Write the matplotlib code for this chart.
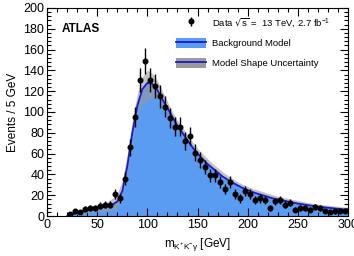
import numpy as np
import matplotlib
matplotlib.use("Agg")
import matplotlib.pyplot as plt
from matplotlib.patches import Patch
from matplotlib.lines import Line2D
from matplotlib.ticker import MultipleLocator

plt.rcParams['font.family'] = ['Liberation Sans', 'DejaVu Sans']

# data, 5 GeV bins
bin_centres = np.arange(22.5, 300, 5.0)
counts = [2, 5, 4, 7, 8, 8, 10, 11, 11, 21, 17, 36, 66, 95,
          131, 149, 131, 125, 115, 105, 94, 86, 86, 72, 77, 61, 54, 47,
          39, 39, 33, 26, 33, 21, 17, 24, 21, 15, 17, 15, 8, 14, 15, 11,
          13, 6, 8, 8, 6, 9, 8, 5, 3.5, 4.5, 4.5, 5]

# background model, read every 5 GeV
model_x = np.arange(20, 305, 5.0)
model_y = [0, 1.5, 3, 4.5, 5.5, 6.5, 7.5, 8.5, 9.5, 11, 14, 24, 48, 80,
           106, 122, 128, 127, 121, 112, 104, 95, 87, 80, 73, 66, 60, 55,
           50, 46, 42, 38, 35, 32, 29.5, 27, 25, 23, 21.5, 20, 18.5, 17,
           16, 15, 14, 13, 12, 11.3, 10.5, 9.8, 9, 8.5, 8, 7.5, 7, 6.5, 6]
band_lo = [0, 0.5, 1.5, 2.5, 3, 3.5, 4, 4.5, 5, 6, 8, 18, 40, 72,
           98, 108, 110, 114, 114, 108, 100, 93, 86, 79, 72, 65, 59, 54,
           49, 45, 41, 37, 34, 31, 28.5, 26, 24, 22, 20.5, 19, 17.5, 16,
           15, 14, 13, 12, 11, 10.5, 9.8, 9, 8.3, 7.8, 7.3, 6.8, 6.3, 5.8, 5.3]
band_hi = [0.5, 3, 5, 7, 8.5, 9.5, 11, 12.5, 14, 17, 22, 34, 60, 92,
           118, 134, 140, 137, 130, 120, 110, 100, 92, 85, 78, 71, 65, 60,
           55, 50.5, 46.5, 42.5, 39, 36, 33, 30.5, 28.5, 26.5, 25, 23.5, 22, 20.5,
           19, 18, 17, 16, 15, 14, 13, 12.2, 11.5, 11, 10.4, 9.8, 9.3, 8.8, 8.3]

fig = plt.figure(figsize=(3.54, 2.56), dpi=100)
ax = fig.add_axes([0.133, 0.156, 0.850, 0.813])

fill_col = '#5a9cf2'
line_col = '#1a1acc'
band_col = '#9a9a9a'
ax.fill_between(model_x, 0, model_y, color=fill_col, lw=0, zorder=1)
ax.fill_between(model_x, band_lo, band_hi, color=band_col, alpha=0.6, lw=0, zorder=2)
ax.plot(model_x, model_y, color=line_col, lw=1.3, zorder=3)
data_h = ax.errorbar(bin_centres, counts, yerr=np.sqrt(counts), fmt='o', color='black',
                     ms=3.3, elinewidth=1.0, capsize=0, zorder=4)

ax.set_xlim(0, 300)
ax.set_ylim(0, 200)
ax.xaxis.set_major_locator(MultipleLocator(50))
ax.xaxis.set_minor_locator(MultipleLocator(10))
ax.yaxis.set_major_locator(MultipleLocator(20))
ax.yaxis.set_minor_locator(MultipleLocator(4))
ax.tick_params(which='both', direction='in', top=True, right=True, labelsize=9, pad=2)
ax.tick_params(which='major', length=6, width=0.8)
ax.tick_params(which='minor', length=3, width=0.8)
for s in ax.spines.values():
    s.set_linewidth(0.8)

ax.set_ylabel('Events / 5 GeV', fontsize=8.5, labelpad=3)
ax.set_xlabel(r'm$_{\mathregular{K^{+}K^{-}\gamma}}$ [GeV]', fontsize=8.5, labelpad=4)

ax.text(0.05, 0.93, 'ATLAS', transform=ax.transAxes, fontsize=8.5,
        fontweight='bold', va='top')

handles = [
    data_h,
    (Patch(facecolor=fill_col, lw=0), Line2D([0], [0], color=line_col, lw=1.3)),
    (Patch(facecolor=band_col, lw=0), Line2D([0], [0], color=line_col, lw=1.3)),
]
labels = [r'Data $\sqrt{\mathregular{s}}$ =  13 TeV, 2.7 fb$^{\mathregular{-1}}$',
          'Background Model', 'Model Shape Uncertainty']
ax.legend(handles, labels, loc='upper left', bbox_to_anchor=(0.41, 0.99),
          frameon=False, fontsize=6.8, handlelength=3.2, handleheight=1.3,
          handletextpad=0.6, labelspacing=1.0, borderaxespad=0.2)

fig.savefig('out.png', dpi=100)
